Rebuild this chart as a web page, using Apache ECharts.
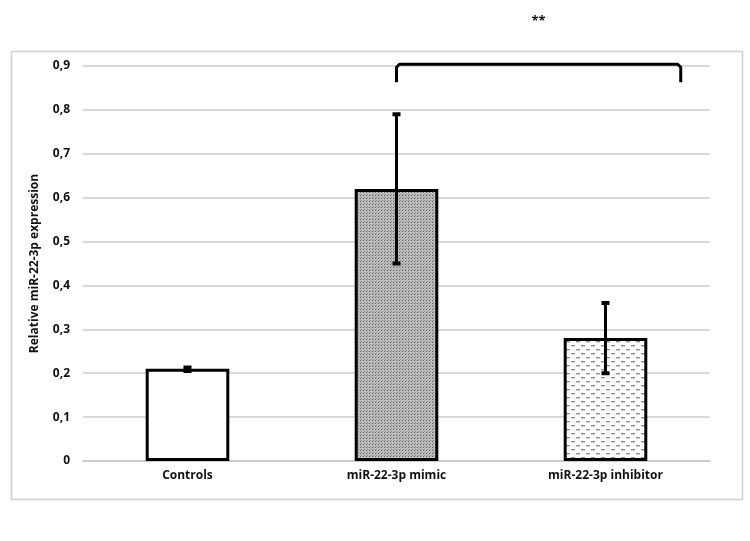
<!DOCTYPE html>
<html><head><meta charset="utf-8">
<script src="https://cdn.jsdelivr.net/npm/echarts@6/dist/echarts.min.js"></script>
<style>html,body{margin:0;padding:0;background:#fff}#c{width:750px;height:541px}</style>
</head><body><div id="c"></div>
<script>
const categories = ['Controls', 'miR-22-3p mimic', 'miR-22-3p inhibitor'];
const values = [0.21, 0.62, 0.28];
const errLow = [0.205, 0.45, 0.20];
const errHigh = [0.213, 0.79, 0.36];
const yTicks = [0, 0.1, 0.2, 0.3, 0.4, 0.5, 0.6, 0.7, 0.8, 0.9];
const braceX = [1, 2.36];
const braceY = [0.904, 0.863];
const braceLabel = '**';

function makePattern(type) {
  const c = document.createElement('canvas');
  const ctx = c.getContext('2d');
  if (type === 'dots') {
    c.width = 3; c.height = 3;
    ctx.fillStyle = '#bdbdbd'; ctx.fillRect(0, 0, 3, 3);
    ctx.fillStyle = '#5e5e5e'; ctx.fillRect(0, 0, 1, 1);
    ctx.fillStyle = '#8a8a8a'; ctx.fillRect(1, 2, 1, 1);
  } else if (type === 'dash') {
    c.width = 10; c.height = 8;
    ctx.fillStyle = '#ffffff'; ctx.fillRect(0, 0, 10, 8);
    ctx.fillStyle = '#8c8c8c';
    ctx.fillRect(1, 1, 4, 1.4);
    ctx.fillRect(6, 5, 4, 1.4);
  }
  return { image: c, repeat: 'repeat' };
}
const fills = ['#ffffff', makePattern('dots'), makePattern('dash')];

const font = '"Open Sans", "Liberation Sans", sans-serif';
const chart = echarts.init(document.getElementById('c'), null, { renderer: 'canvas' });
chart.setOption({
  animation: false,
  backgroundColor: '#ffffff',
  graphic: [{
    type: 'rect', left: 9, top: 49, z: -10,
    shape: { width: 731, height: 448 },
    style: { fill: 'none', stroke: '#d0d0d0', lineWidth: 1.5 }
  }],
  grid: { left: 83, right: 40, top: 66, bottom: 80 },
  xAxis: {
    type: 'category', data: categories,
    axisLine: { show: true, lineStyle: { color: '#c8c8c8', width: 1.5 } },
    axisTick: { show: false },
    axisLabel: { color: '#111', fontFamily: font, fontWeight: 'bold', fontSize: 12, margin: 9 }
  },
  yAxis: {
    type: 'value', min: 0, max: 0.9, interval: 0.1,
    name: 'Relative miR-22-3p expression', nameLocation: 'middle', nameGap: 42,
    nameTextStyle: { color: '#111', fontFamily: font, fontWeight: 'bold', fontSize: 12 },
    axisLine: { show: false }, axisTick: { show: false },
    splitLine: { lineStyle: { color: '#cccccc', width: 1.5 } },
    axisLabel: {
      color: '#111', fontFamily: font, fontWeight: 'bold', fontSize: 12, margin: 13,
      formatter: v => {
        const t = yTicks.find(x => Math.abs(x - v) < 1e-9);
        return t === 0 ? '0' : String(Math.round(v * 10) / 10).replace('.', ',');
      }
    }
  },
  series: [
    {
      type: 'bar', barWidth: '40%',
      data: values.map((v, i) => ({
        value: v,
        itemStyle: { color: fills[i], borderColor: '#000', borderWidth: 3 }
      })),
      z: 2
    },
    {
      type: 'custom', z: 5,
      data: categories.map((c, i) => [i, errLow[i], errHigh[i]]),
      renderItem: (params, api) => {
        const x = api.value(0);
        const lo = api.coord([x, api.value(1)]);
        const hi = api.coord([x, api.value(2)]);
        const hw = 4;
        const st = { stroke: '#000', lineWidth: 3 };
        return {
          type: 'group', children: [
            { type: 'line', shape: { x1: lo[0], y1: lo[1], x2: hi[0], y2: hi[1] }, style: st },
            { type: 'line', shape: { x1: hi[0] - hw, y1: hi[1], x2: hi[0] + hw, y2: hi[1] }, style: { stroke: '#000', lineWidth: 4 } },
            { type: 'line', shape: { x1: lo[0] - hw, y1: lo[1], x2: lo[0] + hw, y2: lo[1] }, style: { stroke: '#000', lineWidth: 4 } }
          ]
        };
      }
    },
    {
      type: 'custom', z: 6, clip: false,
      data: [[braceX[0], braceX[1], braceY[0], braceY[1]]],
      renderItem: (params, api) => {
        const a = api.value(0), b = api.value(1);
        const ia = Math.floor(a), ib = Math.floor(b);
        const ca = api.coord([ia, braceY[0]]);
        const cb = api.coord([ib, braceY[0]]);
        const step = api.coord([1, 0])[0] - api.coord([0, 0])[0];
        const xa = ca[0] + (a - ia) * step;
        const xb = cb[0] + (b - ib) * step;
        const yt = api.coord([0, api.value(2)])[1];
        const yb = api.coord([0, api.value(3)])[1];
        const r = 3;
        return {
          type: 'group', children: [
            {
              type: 'polyline',
              shape: { points: [[xa, yb], [xa, yt + r], [xa + r, yt], [xb - r, yt], [xb, yt + r], [xb, yb]] },
              style: { stroke: '#000', lineWidth: 3, fill: 'none', lineJoin: 'round' }
            },
            {
              type: 'text',
              style: {
                x: (xa + xb) / 2, y: yt - 43, text: braceLabel, align: 'center', verticalAlign: 'middle',
                font: 'bold 13px ' + font, fill: '#111'
              }
            }
          ]
        };
      }
    }
  ]
});
</script>
</body></html>
